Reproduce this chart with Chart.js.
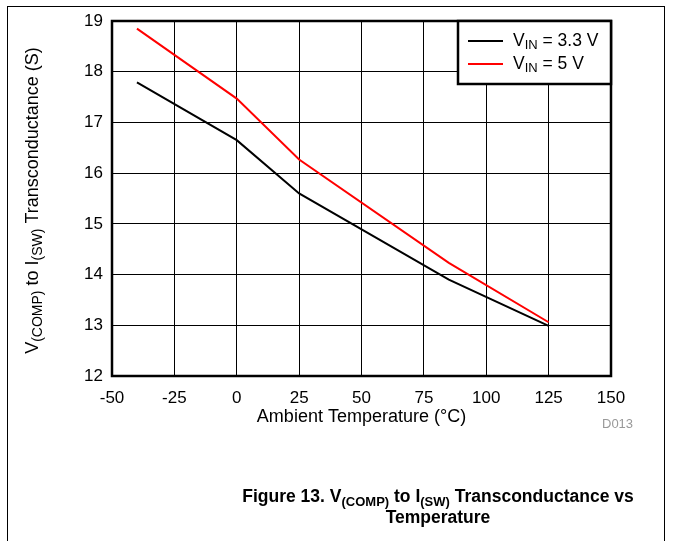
<!DOCTYPE html>
<html><head><meta charset="utf-8">
<script src="https://cdn.jsdelivr.net/npm/chart.js@4"></script>
<style>
html,body{margin:0;padding:0;background:#fff}
body{width:673px;height:541px;overflow:hidden;position:relative;font-family:"Liberation Sans",Arial,sans-serif}
#frame{position:absolute;left:7px;top:6px;width:658px;height:700px;border:1px solid #000;box-sizing:border-box}
#c{position:absolute;left:0;top:0}
#cap{position:absolute;left:88px;width:700px;top:486px;text-align:center;font-weight:bold;font-size:17.5px;line-height:21px;color:#000}
#cap sub{font-size:13px;vertical-align:-4px;line-height:0}
#code{position:absolute;left:602px;top:416px;font-size:13px;color:#999}
</style></head>
<body>
<div id="frame"></div>
<canvas id="c" width="673" height="541"></canvas>
<div id="code">D013</div>
<div id="cap">Figure 13. V<sub>(COMP)</sub> to I<sub>(SW)</sub> Transconductance vs<br>Temperature</div>
<script>
const temperatures = [-40, 0, 25, 85, 125];
const gmVin33 = [17.79, 16.65, 15.60, 13.90, 12.99];
const gmVin5 = [18.85, 17.47, 16.27, 14.23, 13.06];
const xTicks = [-50, -25, 0, 25, 50, 75, 100, 125, 150];
const yTicks = [12, 13, 14, 15, 16, 17, 18, 19];
const seriesNames = [
  [{t:'V'},{t:'IN',sub:true},{t:' = 3.3 V'}],
  [{t:'V'},{t:'IN',sub:true},{t:' = 5 V'}]
];
const seriesColors = ['#000000', '#ff0000'];
const xTitle = 'Ambient Temperature (\u00B0C)';
const yTitle = [{t:'V'},{t:'(COMP)',sub:true},{t:' to I'},{t:'(SW)',sub:true},{t:' Transconductance (S)'}];

const FONT = '"Liberation Sans", Arial, sans-serif';

function richWidth(ctx, segs, size, subSize){
  let w = 0;
  for (const s of segs){
    ctx.font = (s.sub ? subSize : size) + 'px ' + FONT;
    w += ctx.measureText(s.t).width;
  }
  return w;
}
function drawRich(ctx, segs, x, y, size, subSize, subDrop){
  let cx = x;
  ctx.textBaseline = 'middle';
  ctx.textAlign = 'left';
  for (const s of segs){
    ctx.font = (s.sub ? subSize : size) + 'px ' + FONT;
    ctx.fillText(s.t, cx, y + (s.sub ? subDrop : 0));
    cx += ctx.measureText(s.t).width;
  }
}

const customPlugin = {
  id: 'custom',
  afterDatasetsDraw(chart){
    const ctx = chart.ctx;
    const a = chart.chartArea;
    ctx.save();
    // plot frame
    ctx.strokeStyle = '#000';
    ctx.lineWidth = 2.5;
    ctx.strokeRect(a.left, a.top, a.right - a.left, a.bottom - a.top);
    // legend
    const lw = 153, lh = 63;
    const lx = a.right - lw, ly = a.top;
    ctx.fillStyle = '#fff';
    ctx.fillRect(lx, ly, lw, lh);
    ctx.strokeRect(lx, ly, lw, lh);
    for (let i = 0; i < seriesNames.length; i++){
      const yy = ly + 20 + i * 23;
      ctx.strokeStyle = seriesColors[i];
      ctx.lineWidth = 2;
      ctx.beginPath();
      ctx.moveTo(lx + 10, yy);
      ctx.lineTo(lx + 45, yy);
      ctx.stroke();
      ctx.fillStyle = '#000';
      drawRich(ctx, seriesNames[i], lx + 55, yy, 17.5, 13, 4);
    }
    // x title
    ctx.fillStyle = '#000';
    ctx.font = '18px ' + FONT;
    ctx.textAlign = 'center';
    ctx.textBaseline = 'middle';
    ctx.fillText(xTitle, (a.left + a.right) / 2, 417);
    // y title
    ctx.translate(33, (a.top + a.bottom) / 2 + 2);
    ctx.rotate(-Math.PI / 2);
    const w = richWidth(ctx, yTitle, 18, 14);
    drawRich(ctx, yTitle, -w / 2, 0, 18, 14, 5);
    ctx.restore();
  }
};

new Chart(document.getElementById('c'), {
  type: 'line',
  data: {
    datasets: [
      {
        label: 'VIN = 3.3 V',
        data: temperatures.map((t, i) => ({x: t, y: gmVin33[i]})),
        borderColor: seriesColors[0],
        borderWidth: 2,
        pointRadius: 0,
        tension: 0,
        fill: false
      },
      {
        label: 'VIN = 5 V',
        data: temperatures.map((t, i) => ({x: t, y: gmVin5[i]})),
        borderColor: seriesColors[1],
        borderWidth: 2,
        pointRadius: 0,
        tension: 0,
        fill: false
      }
    ]
  },
  options: {
    responsive: false,
    animation: false,
    devicePixelRatio: 1,
    layout: {padding: {left: 0, top: 21, right: 62, bottom: 0}},
    plugins: {legend: {display: false}, tooltip: {enabled: false}, title: {display: false}},
    scales: {
      x: {
        type: 'linear',
        min: xTicks[0], max: xTicks[xTicks.length - 1],
        afterBuildTicks(s){ s.ticks = xTicks.map(v => ({value: v})); },
        afterFit(s){ s.height = 165; },
        grid: {color: '#000', lineWidth: 1, drawTicks: false},
        border: {display: false},
        ticks: {color: '#000', font: {family: FONT, size: 17}, padding: 12, maxRotation: 0, autoSkip: false}
      },
      y: {
        type: 'linear',
        min: yTicks[0], max: yTicks[yTicks.length - 1],
        afterBuildTicks(s){ s.ticks = yTicks.map(v => ({value: v})); },
        afterFit(s){ s.width = 112; },
        grid: {color: '#000', lineWidth: 1, drawTicks: false},
        border: {display: false},
        ticks: {color: '#000', font: {family: FONT, size: 17}, padding: 9}
      }
    }
  },
  plugins: [customPlugin]
});
</script>
</body></html>
